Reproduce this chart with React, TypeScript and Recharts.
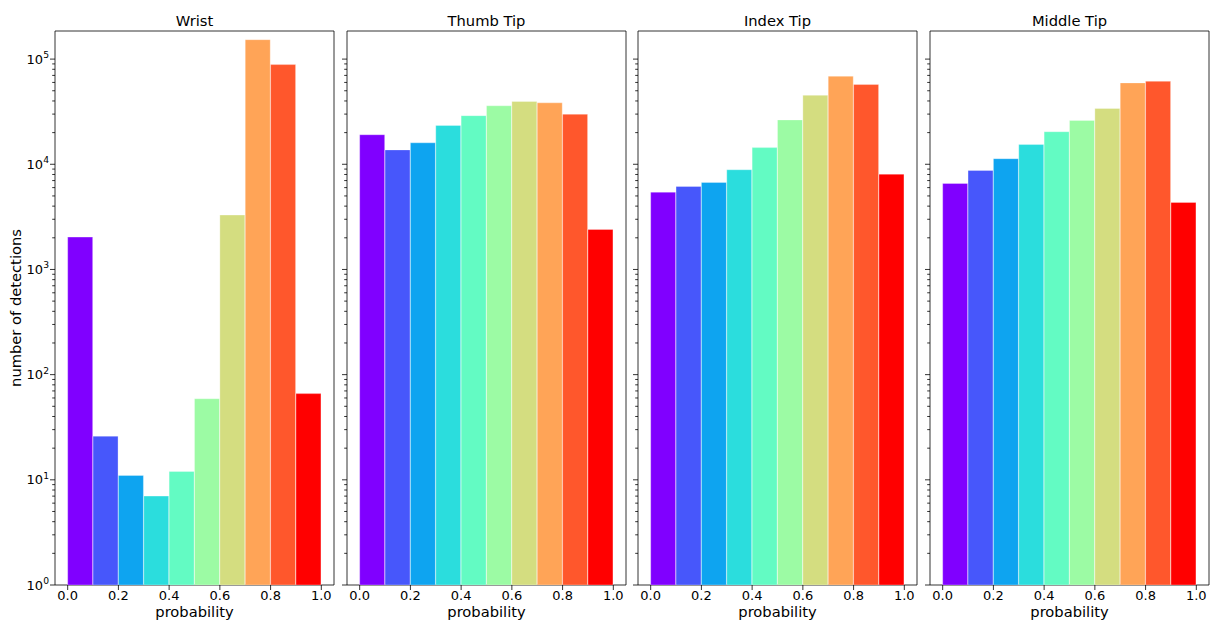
import React from "react";
import {
  BarChart,
  Bar,
  Cell,
  XAxis,
  YAxis,
  ReferenceArea,
} from "recharts";

// histogram bins (lower edges), width 0.1
const binStarts = [0, 0.1, 0.2, 0.3, 0.4, 0.5, 0.6, 0.7, 0.8, 0.9];

const wrist = [2030, 26, 11, 7, 12, 59, 3290, 153000, 88700, 66];
const thumbTip = [19100, 13700, 16000, 23400, 29000, 36000, 39500, 38400, 29900, 2400];
const indexTip = [5430, 6150, 6720, 8870, 14400, 26400, 45300, 68700, 57300, 8050];
const middleTip = [6570, 8730, 11300, 15400, 20400, 26100, 33900, 59400, 61500, 4340];

const panelTitles = ["Wrist", "Thumb Tip", "Index Tip", "Middle Tip"];
const panelValues = [wrist, thumbTip, indexTip, middleTip];

// matplotlib "rainbow" sampled at 10 points
const binColors = [
  "#8000ff",
  "#4757fb",
  "#0ea4f0",
  "#2bdddd",
  "#63fbc3",
  "#9cfba4",
  "#d4dd80",
  "#ffa457",
  "#ff572c",
  "#ff0000",
];

const xTicks = [0, 0.2, 0.4, 0.6, 0.8, 1.0];
const decades = [1, 10, 100, 1000, 10000, 100000];
const minorSubs = [2, 3, 4, 5, 6, 7, 8, 9];
const Y_MAX = 185000;

const yTicks = decades
  .flatMap((d) => [d, ...minorSubs.map((s) => s * d)])
  .filter((v) => v <= Y_MAX);

const PLOT_W = 279;
const PLOT_TOP = 31;
const X_AXIS_H = 35;
const CHART_H = 620;
const plotLefts = [55, 347, 638, 930];

const LogTick = (props: any) => {
  const { x, y, payload, showLabel } = props;
  const v = payload.value;
  const lg = Math.log10(v);
  const exp = Math.round(lg);
  const major = Math.abs(lg - exp) < 1e-6;
  return (
    <g>
      <line x1={x - (major ? 5 : 2.8)} x2={x} y1={y} y2={y} stroke="#000" strokeWidth={0.8} />
      {major && showLabel && (
        <text x={x - 6} y={y + 4.5} textAnchor="end" fontSize={13} fill="#000">
          10
          <tspan dy={-5.5} fontSize={9.2}>
            {exp}
          </tspan>
        </text>
      )}
    </g>
  );
};

const Panel = ({ idx }: { idx: number }) => {
  const first = idx === 0;
  const yW = first ? plotLefts[0] : 8;
  const data = binStarts.map((b, i) => ({ x: b + 0.05, count: panelValues[idx][i] }));
  return (
    <div style={{ position: "absolute", left: plotLefts[idx] - yW, top: 0 }}>
      <BarChart
        width={yW + PLOT_W + 2}
        height={CHART_H}
        data={data}
        barCategoryGap={0}
        barGap={0}
        margin={{ top: PLOT_TOP, right: 2, bottom: 0, left: 0 }}
      >
        <XAxis
          type="number"
          dataKey="x"
          domain={[-0.05, 1.05]}
          ticks={xTicks}
          interval={0}
          allowDataOverflow
          tickFormatter={(v: number) => v.toFixed(1)}
          height={X_AXIS_H}
          tickSize={5}
          tickMargin={1}
          axisLine={false}
          tickLine={{ stroke: "#000", strokeWidth: 0.8 }}
          tick={{ fontSize: 13, fill: "#000" }}
          label={{ value: "probability", position: "insideBottom", offset: 3, fontSize: 14.7, fill: "#000" }}
        />
        <YAxis
          scale="log"
          domain={[1, Y_MAX]}
          allowDataOverflow
          ticks={yTicks}
          interval={0}
          width={yW}
          tickSize={0}
          tickMargin={0}
          axisLine={false}
          tickLine={false}
          tick={(p: any) => <LogTick {...p} showLabel={first} />}
          label={
            first
              ? {
                  value: "number of detections",
                  angle: -90,
                  position: "insideLeft",
                  offset: 16,
                  fontSize: 14.7,
                  fill: "#000",
                  style: { textAnchor: "middle" },
                }
              : undefined
          }
        />
        <Bar
          dataKey="count"
          isAnimationActive={false}
          stroke="#ffffff"
          strokeOpacity={0.3}
          strokeWidth={1}
        >
          {data.map((_, i) => (
            <Cell key={i} fill={binColors[i]} />
          ))}
        </Bar>
        <ReferenceArea
          x1={-0.05}
          x2={1.05}
          y1={1}
          y2={Y_MAX}
          fill="none"
          fillOpacity={0}
          stroke="#000"
          strokeWidth={0.8}
          label={{ value: panelTitles[idx], position: "top", offset: 5, fontSize: 14.7, fill: "#000" }}
        />
      </BarChart>
    </div>
  );
};

export default function App() {
  return (
    <div
      style={{
        position: "absolute",
        left: 0,
        top: 0,
        width: 1212,
        height: 620,
        background: "#fff",
        fontFamily: "'DejaVu Sans', sans-serif",
      }}
    >
      {panelTitles.map((_, i) => (
        <Panel key={i} idx={i} />
      ))}
    </div>
  );
}
